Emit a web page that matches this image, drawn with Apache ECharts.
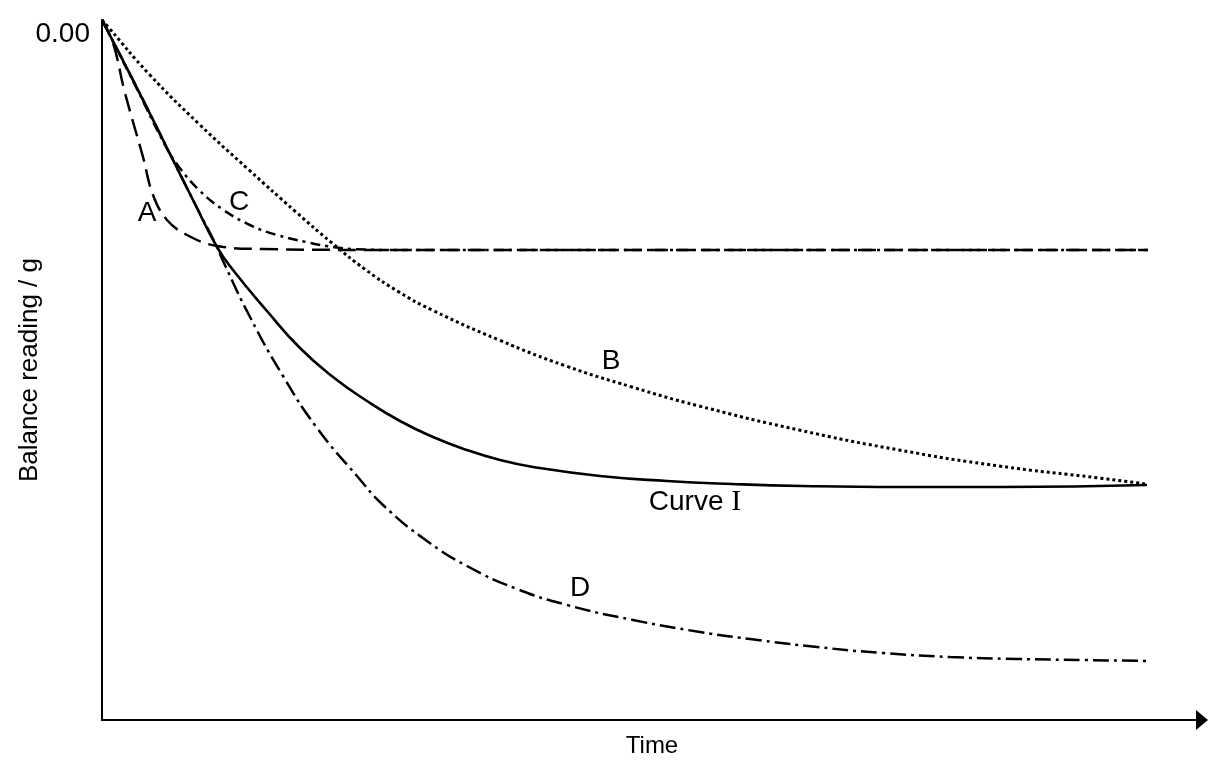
<!DOCTYPE html>
<html>
<head>
<meta charset="utf-8">
<script src="https://cdn.jsdelivr.net/npm/echarts@6/dist/echarts.min.js"></script>
<style>
html,body{margin:0;padding:0;background:#fff;}
#chart{width:1210px;height:760px;}
</style>
</head>
<body>
<div id="chart"></div>
<script>
// Time (arbitrary units) vs balance reading change (g)
const curveI = [[0,0],[3.3,-0.64],[6.6,-1.3],[9.3,-1.84],[11.5,-2.27],[13.1,-2.5],[16.5,-2.91],[19.8,-3.28],[23.1,-3.57],[26.5,-3.81],[29.8,-4.01],[33.1,-4.17],[36.5,-4.3],[39.8,-4.4],[43.1,-4.47],[49.8,-4.56],[56.5,-4.61],[63,-4.64],[70,-4.66],[80,-4.67],[90,-4.67],[104.5,-4.65]];
const curveA = [[0,0],[1.1,-0.23],[2.3,-0.73],[4.1,-1.37],[5.1,-1.75],[6.5,-2.0],[8.5,-2.15],[11.5,-2.26],[16,-2.29],[30,-2.3],[104.6,-2.3]];
const curveB = [[0,0],[0.7,-0.08],[4.7,-0.54],[9.7,-1.04],[14.7,-1.5],[19.4,-1.92],[23,-2.23],[26.4,-2.5],[29.7,-2.72],[33,-2.9],[39.7,-3.2],[46.4,-3.46],[53,-3.67],[59.7,-3.86],[69.7,-4.1],[79.7,-4.3],[89.7,-4.46],[99.7,-4.58],[104.4,-4.64]];
const curveC = [[0,0],[3.3,-0.65],[6.3,-1.25],[7.7,-1.47],[9.7,-1.7],[12.0,-1.89],[15.0,-2.06],[17.5,-2.15],[20.4,-2.22],[22.4,-2.26],[25,-2.29],[30,-2.3],[104.6,-2.3]];
const curveD = [[0,0],[3.3,-0.64],[6.6,-1.3],[9.3,-1.84],[11.5,-2.27],[12.1,-2.41],[14.8,-2.97],[18.1,-3.56],[21.5,-4.08],[25.5,-4.56],[28.1,-4.85],[32.5,-5.21],[36.5,-5.46],[41.5,-5.69],[46.5,-5.85],[53.1,-6.0],[59.8,-6.12],[64.8,-6.19],[71.5,-6.27],[78.1,-6.33],[84.8,-6.37],[91.5,-6.39],[98.1,-6.4],[104.6,-6.41]];
// annotation anchors [x, y, text]
const curveLabels = [[4.5,-1.93,'A'],[13.7,-1.82,'C'],[50.9,-3.41,'B'],[59.3,-4.82,'Curve {s|I}'],[47.8,-5.68,'D']];
const yTickLabels = {'0': '0.00'};
const xName = 'Time';
const yName = 'Balance reading / g';

const FONT = 'Liberation Sans, Arial, sans-serif';
const chart = echarts.init(document.getElementById('chart'), null, {renderer:'canvas'});

function lineSeries(name, data, type, width, smooth, z) {
  return {
    name, type: 'line', data, showSymbol: false, symbol: 'none',
    smooth: smooth, z: z || 2,
    lineStyle: {color: '#000', width: width || 2.5, type: type, cap: 'butt'},
    emphasis: {disabled: true}, silent: true, animation: false
  };
}

const labelSeries = {
  type: 'scatter', data: [], silent: true, symbolSize: 0,
  markPoint: {
    symbol: 'circle', symbolSize: 0, animation: false,
    data: curveLabels.map(l => ({coord: [l[0], l[1]], value: l[2],
      label: {show: true, position: 'inside', formatter: l[2], color: '#000',
        fontFamily: FONT, fontSize: 28,
        rich: {s: {fontFamily: 'Liberation Serif, Times New Roman, serif', fontSize: 30, color: '#000'}}}}))
  }
};

chart.setOption({
  animation: false,
  backgroundColor: '#fff',
  grid: {left: 102, right: 8, top: 20, bottom: 40, containLabel: false, outerBoundsMode: 'none'},
  xAxis: {
    type: 'value', min: 0, max: 110,
    name: xName, nameLocation: 'middle', nameGap: 14, nameMoveOverlap: false,
    nameTextStyle: {fontFamily: FONT, fontSize: 24, color: '#000', verticalAlign: 'top'},
    axisLine: {show: true, onZero: false, lineStyle: {color: '#000', width: 2}, symbol: ['none', 'triangle'], symbolSize: [20, 12]},
    axisTick: {show: false}, axisLabel: {show: false}, splitLine: {show: false}
  },
  yAxis: {
    type: 'value', min: -7, max: 0, interval: 7,
    name: yName, nameLocation: 'middle', nameGap: 59, nameRotate: 90, nameMoveOverlap: false,
    nameTextStyle: {fontFamily: FONT, fontSize: 26, color: '#000'},
    axisLine: {show: true, onZero: false, lineStyle: {color: '#000', width: 2}},
    axisTick: {show: false},
    axisLabel: {show: true, margin: 12, fontFamily: FONT, fontSize: 28, color: '#000',
      verticalAlign: 'top',
      formatter: v => yTickLabels[String(v)] || ''},
    splitLine: {show: false}
  },
  series: [
    lineSeries('A', curveA, [18, 8], 2.5, 0.4, 2),
    lineSeries('B', curveB, [3, 3], 3, 0.5, 2),
    lineSeries('C', curveC, [10, 5, 3, 5], 2.5, 0.4, 2),
    lineSeries('D', curveD, [16, 5, 3, 5], 2.5, 0.5, 2),
    lineSeries('Curve I', curveI, 'solid', 2.6, 0.5, 3),
    labelSeries
  ]
});
</script>
</body>
</html>
